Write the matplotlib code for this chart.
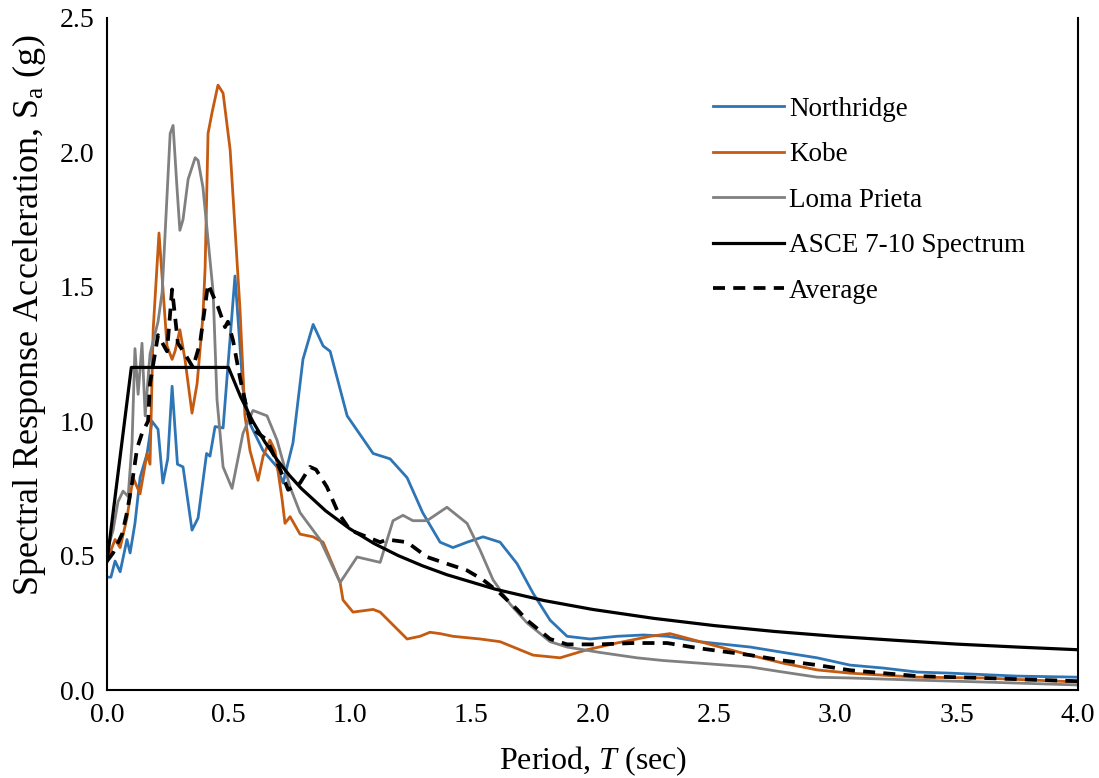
import matplotlib
matplotlib.use("Agg")
import matplotlib.pyplot as plt

# Periodo (s) y aceleracion espectral (g)
t_north = [0.0, 0.016, 0.033, 0.054, 0.082, 0.095, 0.115, 0.136, 0.165, 0.185, 0.21, 0.23, 0.25,
           0.268, 0.29, 0.313, 0.35, 0.375, 0.41, 0.424, 0.445, 0.478, 0.527, 0.56, 0.589, 0.643,
           0.70, 0.725, 0.766, 0.807, 0.849, 0.89, 0.919, 0.989, 1.096, 1.166, 1.236, 1.30, 1.372,
           1.425, 1.483, 1.549, 1.619, 1.689, 1.755, 1.825, 1.895, 1.99, 2.10, 2.21, 2.31, 2.44,
           2.65, 2.785, 2.925, 3.06, 3.197, 3.337, 3.473, 3.749, 4.0]
sa_north = [0.42, 0.42, 0.48, 0.44, 0.56, 0.51, 0.62, 0.79, 0.88, 1.00, 0.97, 0.77, 0.86,
            1.13, 0.84, 0.83, 0.595, 0.64, 0.88, 0.87, 0.98, 0.975, 1.54, 1.12, 0.99, 0.89,
            0.83, 0.77, 0.92, 1.23, 1.36, 1.28, 1.26, 1.02, 0.88, 0.86, 0.79, 0.66, 0.55,
            0.53, 0.55, 0.57, 0.55, 0.47, 0.36, 0.26, 0.20, 0.19, 0.20, 0.205, 0.20, 0.18,
            0.16, 0.14, 0.12, 0.093, 0.082, 0.067, 0.063, 0.052, 0.048]

t_kobe = [0.0, 0.012, 0.033, 0.054, 0.082, 0.107, 0.136, 0.165, 0.177, 0.19, 0.214, 0.247, 0.268,
          0.28, 0.30, 0.321, 0.35, 0.371, 0.395, 0.404, 0.416, 0.433, 0.457, 0.478, 0.507, 0.527,
          0.548, 0.568, 0.589, 0.622, 0.643, 0.671, 0.692, 0.721, 0.733, 0.754, 0.795, 0.849,
          0.89, 0.96, 0.972, 1.013, 1.096, 1.125, 1.236, 1.289, 1.33, 1.372, 1.425, 1.537, 1.619,
          1.755, 1.866, 1.977, 2.10, 2.237, 2.319, 2.443, 2.649, 2.785, 2.925, 3.06, 3.337,
          3.609, 4.0]
sa_kobe = [0.48, 0.51, 0.56, 0.53, 0.64, 0.79, 0.73, 0.88, 0.84, 1.34, 1.70, 1.28, 1.23,
           1.26, 1.34, 1.23, 1.03, 1.14, 1.39, 1.57, 2.07, 2.15, 2.25, 2.22, 2.01, 1.72,
           1.41, 1.02, 0.89, 0.78, 0.87, 0.93, 0.89, 0.71, 0.62, 0.645, 0.58, 0.57,
           0.55, 0.40, 0.335, 0.29, 0.30, 0.29, 0.19, 0.20, 0.215, 0.21, 0.20, 0.19, 0.18,
           0.13, 0.12, 0.15, 0.175, 0.20, 0.21, 0.18, 0.13, 0.10, 0.075, 0.063, 0.048,
           0.045, 0.03]

t_loma = [0.0, 0.004, 0.025, 0.045, 0.066, 0.087, 0.103, 0.115, 0.128, 0.144, 0.157, 0.177, 0.21,
          0.227, 0.26, 0.272, 0.288, 0.30, 0.313, 0.334, 0.363, 0.375, 0.395, 0.437, 0.453,
          0.478, 0.515, 0.56, 0.601, 0.659, 0.70, 0.754, 0.795, 0.877, 0.96, 1.03, 1.125,
          1.178, 1.219, 1.26, 1.318, 1.40, 1.483, 1.537, 1.59, 1.66, 1.73, 1.825, 1.895,
          2.03, 2.183, 2.29, 2.443, 2.649, 2.785, 2.925, 3.06, 3.337, 3.609, 4.0]
sa_loma = [0.50, 0.53, 0.595, 0.70, 0.74, 0.72, 0.92, 1.27, 1.10, 1.29, 1.02, 1.25, 1.37,
           1.48, 2.07, 2.10, 1.87, 1.71, 1.75, 1.90, 1.98, 1.97, 1.87, 1.48, 1.08,
           0.83, 0.75, 0.955, 1.04, 1.02, 0.93, 0.755, 0.66, 0.56, 0.40, 0.495, 0.475,
           0.63, 0.65, 0.63, 0.63, 0.68, 0.62, 0.52, 0.41, 0.32, 0.25, 0.18, 0.16,
           0.14, 0.12, 0.11, 0.10, 0.086, 0.067, 0.048, 0.045, 0.037, 0.03, 0.019]

t_asce = [0.0, 0.1, 0.5, 0.55, 0.6, 0.65, 0.7, 0.75, 0.8, 0.9, 1.0, 1.1, 1.2, 1.3, 1.4, 1.6,
          1.8, 2.0, 2.25, 2.5, 2.75, 3.0, 3.25, 3.5, 3.75, 4.0]
sa_asce = [0.48, 1.2, 1.2, 1.091, 1.0, 0.923, 0.857, 0.8, 0.75, 0.667, 0.6, 0.545, 0.5, 0.462,
           0.429, 0.375, 0.333, 0.3, 0.267, 0.24, 0.218, 0.2, 0.185, 0.171, 0.16, 0.15]

t_avg = [0.0, 0.025, 0.062, 0.082, 0.103, 0.124, 0.144, 0.169, 0.177, 0.21, 0.247, 0.268, 0.292,
         0.321, 0.354, 0.383, 0.416, 0.457, 0.486, 0.498, 0.519, 0.548, 0.577, 0.601, 0.659,
         0.684, 0.713, 0.746, 0.795, 0.836, 0.861, 0.906, 0.952, 1.001, 1.125, 1.153, 1.236,
         1.318, 1.40, 1.483, 1.549, 1.619, 1.689, 1.73, 1.825, 1.895, 2.03, 2.167, 2.307,
         2.443, 2.649, 2.785, 2.925, 3.06, 3.337, 3.609, 4.0]
sa_avg = [0.48, 0.51, 0.58, 0.66, 0.77, 0.90, 0.955, 1.00, 1.14, 1.32, 1.26, 1.49, 1.29,
          1.25, 1.20, 1.29, 1.51, 1.425, 1.35, 1.37, 1.30, 1.16, 1.04, 0.97, 0.93,
          0.88, 0.82, 0.745, 0.77, 0.83, 0.82, 0.755, 0.66, 0.595, 0.55, 0.56, 0.55,
          0.495, 0.47, 0.445, 0.41, 0.36, 0.30, 0.26, 0.19, 0.17, 0.17, 0.175, 0.175,
          0.155, 0.13, 0.11, 0.093, 0.074, 0.052, 0.045, 0.033]

plt.rcParams['font.family'] = ['Liberation Serif', 'DejaVu Serif']
plt.rcParams['mathtext.fontset'] = 'custom'
plt.rcParams['mathtext.rm'] = 'Liberation Serif'
plt.rcParams['mathtext.it'] = 'Liberation Serif:italic'

fig = plt.figure(figsize=(10.99, 7.78), dpi=100)
ax = fig.add_axes([0.0974, 0.113, 0.8836, 0.864])

ax.plot(t_north, sa_north, color='#2E75B6', lw=2.0, label='Northridge')
ax.plot(t_kobe, sa_kobe, color='#C55A11', lw=2.0, label='Kobe')
ax.plot(t_loma, sa_loma, color='#808080', lw=2.0, label='Loma Prieta')
ax.plot(t_asce, sa_asce, color='black', lw=2.3, label='ASCE 7-10 Spectrum')
ax.plot(t_avg, sa_avg, color='black', lw=2.7, ls=(0, (3.2, 2.2)), label='Average')

ax.set_xlim(0, 4)
ax.set_ylim(0, 2.5)
ax.set_xticks([0, 0.5, 1.0, 1.5, 2.0, 2.5, 3.0, 3.5, 4.0])
ax.set_yticks([0, 0.5, 1.0, 1.5, 2.0, 2.5])
ax.xaxis.set_major_formatter(matplotlib.ticker.FormatStrFormatter('%.1f'))
ax.yaxis.set_major_formatter(matplotlib.ticker.FormatStrFormatter('%.1f'))
ax.tick_params(length=0, labelsize=20, pad=9)

for s in ['left', 'bottom', 'right']:
    ax.spines[s].set_linewidth(1.5)
ax.spines['top'].set_visible(False)

ax.set_xlabel('Period, $T$ (sec)', fontsize=23, labelpad=12)
ax.set_ylabel('Spectral Response Acceleration, S$_\\mathrm{a}$ (g)', fontsize=26)
ax.yaxis.set_label_coords(-0.061, 0.557)

ax.legend(loc='upper left', bbox_to_anchor=(0.613, 0.899), frameon=False, fontsize=19.5,
          handlelength=2.6, labelspacing=0.76, handletextpad=0.2, borderaxespad=0)

fig.savefig('out.png', dpi=100)
